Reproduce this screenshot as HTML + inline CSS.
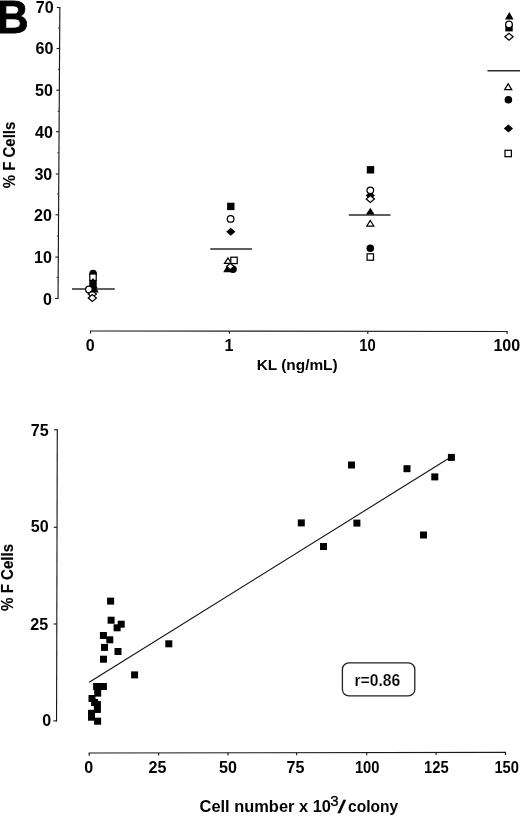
<!DOCTYPE html>
<html lang="en"><head><meta charset="utf-8"><title>Figure B</title>
<style>html,body{margin:0;padding:0;background:#fff;}body{width:520px;height:816px;overflow:hidden;}svg{display:block;filter:grayscale(1);}text{font-family:"Liberation Sans", Arial, Helvetica, sans-serif;font-weight:700;fill:#000;}</style>
</head><body>
<svg width="520" height="816" viewBox="0 0 520 816">
<rect width="520" height="816" fill="#fff"/>
<text transform="translate(-3.6,33.0) scale(0.95,1)" font-size="47" stroke="#000" stroke-width="0.8" stroke-linejoin="round">B</text>
<g stroke="#1a1a1a" stroke-width="1.15" fill="none">
<line x1="59.85" y1="7.0" x2="58.05" y2="299.0"/>
<line x1="56.85" y1="7.5" x2="59.85" y2="7.5"/>
<line x1="56.59" y1="48.5" x2="59.59" y2="48.5"/>
<line x1="56.34" y1="90.2" x2="59.34" y2="90.2"/>
<line x1="56.08" y1="131.7" x2="59.08" y2="131.7"/>
<line x1="55.82" y1="174.0" x2="58.82" y2="174.0"/>
<line x1="55.57" y1="214.8" x2="58.57" y2="214.8"/>
<line x1="55.31" y1="257.1" x2="58.31" y2="257.1"/>
<line x1="55.05" y1="298.5" x2="58.05" y2="298.5"/>
<line x1="58.12" y1="28.0" x2="59.72" y2="28.0" stroke-width="0.9"/>
<line x1="57.87" y1="69.3" x2="59.47" y2="69.3" stroke-width="0.9"/>
<line x1="57.61" y1="111.3" x2="59.21" y2="111.3" stroke-width="0.9"/>
<line x1="57.35" y1="152.8" x2="58.95" y2="152.8" stroke-width="0.9"/>
<line x1="57.10" y1="194.0" x2="58.70" y2="194.0" stroke-width="0.9"/>
<line x1="56.84" y1="236.0" x2="58.44" y2="236.0" stroke-width="0.9"/>
<line x1="56.58" y1="277.3" x2="58.18" y2="277.3" stroke-width="0.9"/>
<line x1="90.0" y1="331.00" x2="507.6" y2="331.50"/>
<line x1="90.5" y1="331.00" x2="90.5" y2="333.60"/>
<line x1="229.4" y1="331.17" x2="229.4" y2="333.77"/>
<line x1="367.8" y1="331.33" x2="367.8" y2="333.93"/>
<line x1="507.1" y1="331.50" x2="507.1" y2="334.10"/>
</g>
<text transform="translate(53.6,13.0) scale(1,1.045)" font-size="16.1" text-anchor="end">70</text>
<text transform="translate(53.5,54.4) scale(1,1.045)" font-size="16.1" text-anchor="end">60</text>
<text transform="translate(53.0,96.3) scale(1,1.045)" font-size="16.1" text-anchor="end">50</text>
<text transform="translate(53.0,137.8) scale(1,1.045)" font-size="16.1" text-anchor="end">40</text>
<text transform="translate(52.3,179.8) scale(1,1.045)" font-size="16.1" text-anchor="end">30</text>
<text transform="translate(52.0,221.2) scale(1,1.045)" font-size="16.1" text-anchor="end">20</text>
<text transform="translate(52.0,262.7) scale(1,1.045)" font-size="16.1" text-anchor="end">10</text>
<text transform="translate(52.0,305.3) scale(1,1.045)" font-size="16.1" text-anchor="end">0</text>
<text transform="translate(90.2,350.7) scale(1,1.045)" font-size="16.1" text-anchor="middle">0</text>
<text transform="translate(229.1,350.7) scale(1,1.045)" font-size="16.1" text-anchor="middle">1</text>
<text transform="translate(367.5,350.7) scale(1,1.045)" font-size="16.1" text-anchor="middle" textLength="16.4" lengthAdjust="spacingAndGlyphs">10</text>
<text transform="translate(506.8,350.7) scale(1,1.045)" font-size="16.1" text-anchor="middle">100</text>
<text x="297.2" y="369.6" font-size="15.4" text-anchor="middle">KL (ng/mL)</text>
<text transform="translate(15.1,155) rotate(-90) scale(1,1.14)" font-size="15" text-anchor="middle" stroke="#000" stroke-width="0.1">% F Cells</text>
<line x1="72.0" y1="289.0" x2="114.8" y2="289.0" stroke="#2a2a2a" stroke-width="1.45"/>
<circle cx="93.1" cy="273.6" r="3.8" fill="#000"/>
<rect x="89.8" y="274.0" width="6.4" height="6.4" fill="#fff" stroke="#000" stroke-width="1.25"/>
<polygon points="93.0,277.8 96.6,284.0 89.4,284.0" fill="#000"/>
<rect x="89.3" y="280.3" width="7.4" height="7.4" fill="#000"/>
<polygon points="88.4,287.5 93.0,283.5 97.6,287.5 93.0,291.5" fill="#000"/>
<circle cx="88.9" cy="289.5" r="3.3" fill="#fff" stroke="#000" stroke-width="1.25"/>
<polygon points="88.2,294.0 92.3,290.5 96.4,294.0 92.3,297.5" fill="#fff" stroke="#000" stroke-width="1.25"/>
<polygon points="94.5,285.5 98.8,292.5 90.2,292.5" fill="#000"/>
<polygon points="88.2,298.0 92.3,294.5 96.4,298.0 92.3,301.5" fill="#fff" stroke="#000" stroke-width="1.25"/>
<line x1="210.3" y1="249.0" x2="252.0" y2="249.0" stroke="#2a2a2a" stroke-width="1.45"/>
<rect x="227.1" y="202.7" width="7.4" height="7.4" fill="#000"/>
<circle cx="230.6" cy="218.9" r="3.3" fill="#fff" stroke="#000" stroke-width="1.25"/>
<polygon points="226.2,231.8 230.8,227.8 235.4,231.8 230.8,235.8" fill="#000"/>
<polygon points="228.0,258.0 231.5,263.4 224.5,263.4" fill="#fff" stroke="#000" stroke-width="1.25"/>
<rect x="230.8" y="257.2" width="6.4" height="6.4" fill="#fff" stroke="#000" stroke-width="1.25"/>
<polygon points="227.5,265.0 231.8,272.3 223.2,272.3" fill="#000"/>
<circle cx="233.0" cy="269.2" r="3.8" fill="#000"/>
<polygon points="226.6,266.5 230.3,263.3 234.0,266.5 230.3,269.7" fill="#fff" stroke="#000" stroke-width="1.25"/>
<line x1="348.8" y1="214.9" x2="390.5" y2="214.9" stroke="#2a2a2a" stroke-width="1.45"/>
<rect x="366.8" y="166.1" width="7.4" height="7.4" fill="#000"/>
<polygon points="365.7,195.4 370.3,191.4 374.9,195.4 370.3,199.4" fill="#000"/>
<circle cx="370.3" cy="190.3" r="3.3" fill="#fff" stroke="#000" stroke-width="1.25"/>
<polygon points="366.2,198.9 370.3,195.4 374.4,198.9 370.3,202.4" fill="#fff" stroke="#000" stroke-width="1.25"/>
<polygon points="370.3,207.7 374.6,214.6 366.0,214.6" fill="#000"/>
<polygon points="370.3,220.5 373.8,226.0 366.8,226.0" fill="#fff" stroke="#000" stroke-width="1.25"/>
<circle cx="370.3" cy="248.2" r="3.8" fill="#000"/>
<rect x="367.1" y="253.8" width="6.4" height="6.4" fill="#fff" stroke="#000" stroke-width="1.25"/>
<line x1="487.5" y1="70.7" x2="521.0" y2="70.7" stroke="#2a2a2a" stroke-width="1.45"/>
<polygon points="509.3,12.1 513.6,19.4 505.0,19.4" fill="#000"/>
<rect x="505.3" y="24.0" width="7.4" height="7.4" fill="#000"/>
<circle cx="509.0" cy="24.5" r="3.3" fill="#fff" stroke="#000" stroke-width="1.25"/>
<polygon points="504.9,36.7 509.0,33.2 513.1,36.7 509.0,40.2" fill="#fff" stroke="#000" stroke-width="1.25"/>
<polygon points="508.2,83.7 511.7,89.6 504.7,89.6" fill="#fff" stroke="#000" stroke-width="1.25"/>
<circle cx="508.4" cy="99.7" r="3.8" fill="#000"/>
<polygon points="503.8,128.4 508.4,124.4 513.0,128.4 508.4,132.4" fill="#000"/>
<rect x="505.0" y="150.3" width="6.4" height="6.4" fill="#fff" stroke="#000" stroke-width="1.25"/>
<g stroke="#1a1a1a" stroke-width="1.15" fill="none">
<line x1="57.30" y1="429.3" x2="56.55" y2="721.4"/>
<line x1="54.10" y1="429.8" x2="57.30" y2="429.8"/>
<line x1="53.85" y1="527.3" x2="57.05" y2="527.3"/>
<line x1="53.60" y1="624.0" x2="56.80" y2="624.0"/>
<line x1="53.35" y1="720.9" x2="56.55" y2="720.9"/>
<line x1="88.7" y1="753.00" x2="506.0" y2="752.30"/>
<line x1="89.2" y1="753.00" x2="89.2" y2="755.70"/>
<line x1="158.6" y1="752.88" x2="158.6" y2="755.58"/>
<line x1="228.0" y1="752.77" x2="228.0" y2="755.47"/>
<line x1="296.6" y1="752.65" x2="296.6" y2="755.35"/>
<line x1="366.7" y1="752.53" x2="366.7" y2="755.23"/>
<line x1="436.1" y1="752.42" x2="436.1" y2="755.12"/>
<line x1="505.5" y1="752.30" x2="505.5" y2="755.00"/>
</g>
<text transform="translate(48.6,435.5) scale(1,1.045)" font-size="16.1" text-anchor="end">75</text>
<text transform="translate(48.6,532.2) scale(1,1.045)" font-size="16.1" text-anchor="end">50</text>
<text transform="translate(48.1,629.5) scale(1,1.045)" font-size="16.1" text-anchor="end">25</text>
<text transform="translate(51.2,726.1) scale(1,1.045)" font-size="16.1" text-anchor="end">0</text>
<text transform="translate(88.8,773.1) scale(1,1.045)" font-size="16.1" text-anchor="middle">0</text>
<text transform="translate(157.4,773.1) scale(1,1.045)" font-size="16.1" text-anchor="middle">25</text>
<text transform="translate(227.9,773.1) scale(1,1.045)" font-size="16.1" text-anchor="middle">50</text>
<text transform="translate(295.4,773.1) scale(1,1.045)" font-size="16.1" text-anchor="middle">75</text>
<text transform="translate(367.2,773.1) scale(1,1.045)" font-size="16.1" text-anchor="middle" textLength="24.6" lengthAdjust="spacingAndGlyphs">100</text>
<text transform="translate(436.4,773.1) scale(1,1.045)" font-size="16.1" text-anchor="middle" textLength="24.6" lengthAdjust="spacingAndGlyphs">125</text>
<text transform="translate(506.7,773.1) scale(1,1.045)" font-size="16.1" text-anchor="middle" textLength="24.6" lengthAdjust="spacingAndGlyphs">150</text>
<text transform="translate(12.6,577.4) rotate(-90) scale(1,1.14)" font-size="15.1" text-anchor="middle" stroke="#000" stroke-width="0.15">% F Cells</text>
<text x="199.6" y="811.6" font-size="15.7" textLength="131.3" lengthAdjust="spacingAndGlyphs">Cell number x 10</text>
<text x="330.2" y="806.1" font-size="15" style="font-weight:400" stroke="#000" stroke-width="0.35">3</text>
<text transform="translate(337.7,813.2) scale(1.85,1.15)" font-size="15.7" style="font-weight:400" stroke="#000" stroke-width="0.3">/</text>
<text x="348.0" y="811.6" font-size="15.7" textLength="50.2" lengthAdjust="spacingAndGlyphs">colony</text>
<line x1="89.2" y1="682.3" x2="448.5" y2="458.5" stroke="#111" stroke-width="1.1"/>
<rect x="107.1" y="597.6" width="7.0" height="7.0" fill="#000"/>
<rect x="107.6" y="616.7" width="7.0" height="7.0" fill="#000"/>
<rect x="117.7" y="620.7" width="7.0" height="7.0" fill="#000"/>
<rect x="113.6" y="624.3" width="7.0" height="7.0" fill="#000"/>
<rect x="99.9" y="632.0" width="7.0" height="7.0" fill="#000"/>
<rect x="106.3" y="636.3" width="7.0" height="7.0" fill="#000"/>
<rect x="101.0" y="643.9" width="7.0" height="7.0" fill="#000"/>
<rect x="114.5" y="648.0" width="7.0" height="7.0" fill="#000"/>
<rect x="100.0" y="655.7" width="7.0" height="7.0" fill="#000"/>
<rect x="131.1" y="671.4" width="7.0" height="7.0" fill="#000"/>
<rect x="165.3" y="640.3" width="7.0" height="7.0" fill="#000"/>
<rect x="297.8" y="519.4" width="7.0" height="7.0" fill="#000"/>
<rect x="320.0" y="543.0" width="7.0" height="7.0" fill="#000"/>
<rect x="348.0" y="461.5" width="7.0" height="7.0" fill="#000"/>
<rect x="353.4" y="519.6" width="7.0" height="7.0" fill="#000"/>
<rect x="403.5" y="465.2" width="7.0" height="7.0" fill="#000"/>
<rect x="420.0" y="531.5" width="7.0" height="7.0" fill="#000"/>
<rect x="431.3" y="473.4" width="7.0" height="7.0" fill="#000"/>
<rect x="447.9" y="453.9" width="7.0" height="7.0" fill="#000"/>
<rect x="93.1" y="683.0" width="7.0" height="7.0" fill="#000"/>
<rect x="99.9" y="683.0" width="7.0" height="7.0" fill="#000"/>
<rect x="94.2" y="689.6" width="7.0" height="7.0" fill="#000"/>
<rect x="88.5" y="695.0" width="7.0" height="7.0" fill="#000"/>
<rect x="91.1" y="699.0" width="7.0" height="7.0" fill="#000"/>
<rect x="93.9" y="701.0" width="7.0" height="7.0" fill="#000"/>
<rect x="93.9" y="706.0" width="7.0" height="7.0" fill="#000"/>
<rect x="88.0" y="709.8" width="7.0" height="7.0" fill="#000"/>
<rect x="88.0" y="713.7" width="7.0" height="7.0" fill="#000"/>
<rect x="94.1" y="717.7" width="7.0" height="7.0" fill="#000"/>
<rect x="342.4" y="662.9" width="72.4" height="33" rx="6.5" ry="6.5" fill="#fff" stroke="#222" stroke-width="1.3"/>
<text transform="translate(377.3,685.9) scale(1,1.1)" font-size="15.7" text-anchor="middle" stroke="#fff" stroke-width="0.15">r=0.86</text>
</svg>
</body></html>
